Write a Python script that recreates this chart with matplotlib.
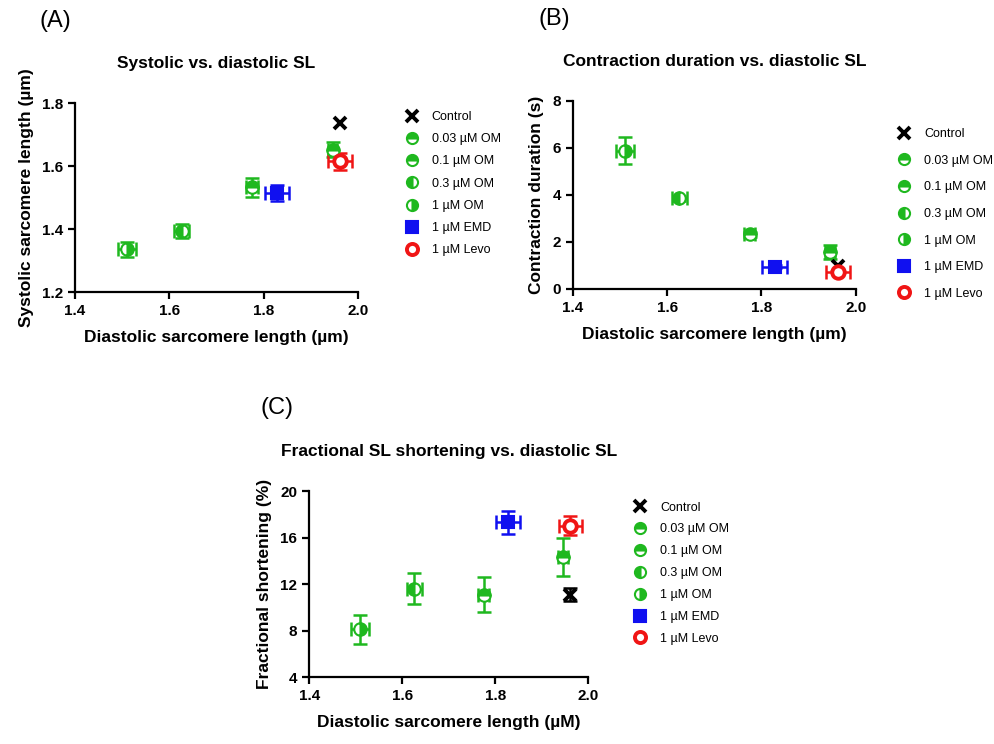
import matplotlib
matplotlib.use("Agg")
import matplotlib.pyplot as plt
from matplotlib.lines import Line2D

plt.rcParams['font.family'] = ['Liberation Sans', 'DejaVu Sans']

groups = ["Control", "0.03 µM OM", "0.1 µM OM", "0.3 µM OM", "1 µM OM", "1 µM EMD", "1 µM Levo"]

# diastolic SL (x) with SEM, same for all panels
dia = [1.962, 1.946, 1.775, 1.626, 1.510, 1.828, 1.962]
dia_err = [0.0, 0.010, 0.012, 0.016, 0.019, 0.026, 0.025]

# panel A: systolic SL
sys_sl = [1.738, 1.652, 1.533, 1.394, 1.336, 1.514, 1.615]
sys_err = [0.0, 0.024, 0.030, 0.022, 0.024, 0.026, 0.026]

# panel B: contraction duration (s)
dur = [0.98, 1.56, 2.33, 3.86, 5.89, 0.95, 0.74]
dur_err = [0.0, 0.30, 0.10, 0.10, 0.58, 0.05, 0.05]

# panel C: fractional shortening (%)
fs = [11.1, 14.3, 11.1, 11.6, 8.1, 17.3, 17.0]
fs_err = [0.55, 1.62, 1.5, 1.35, 1.25, 0.98, 0.82]

green = '#1fb81f'
styles = {
    "Control":    dict(marker='x', color='black', mfc='black', fs='full', mew=2.8, ms=9),
    "0.03 µM OM": dict(marker='o', color=green, mfc=green, fs='top', mew=1.5, ms=9),
    "0.1 µM OM":  dict(marker='o', color=green, mfc=green, fs='top', mew=1.5, ms=9),
    "0.3 µM OM":  dict(marker='o', color=green, mfc=green, fs='left', mew=1.5, ms=9),
    "1 µM OM":    dict(marker='o', color=green, mfc=green, fs='right', mew=1.5, ms=9),
    "1 µM EMD":   dict(marker='s', color='#1010f0', mfc='#1010f0', fs='full', mew=1.5, ms=9),
    "1 µM Levo":  dict(marker='o', color='#f01515', mfc='white', fs='full', mew=2.8, ms=9),
}


def panel(rect, yv, yerr, ylim, yticks, ylabel, title, xlabel, leg_pos, leg_sp):
    ax = fig.add_axes(rect)
    for i, g in enumerate(groups):
        s = styles[g]
        xe = dia_err[i] if dia_err[i] > 0 else None
        ye = yerr[i] if yerr[i] > 0 else None
        if xe is not None or ye is not None:
            ax.errorbar(dia[i], yv[i], xerr=xe, yerr=ye, fmt='none',
                        ecolor=s['color'], elinewidth=1.8, capsize=5, capthick=1.8, zorder=2)
        ax.plot(dia[i], yv[i], marker=s['marker'], color=s['color'], ls='none',
                markersize=s['ms'], markerfacecolor=s['mfc'], markerfacecoloralt='white',
                markeredgecolor=s['color'], fillstyle=s['fs'], markeredgewidth=s['mew'],
                zorder=3)
    ax.set_xlim(1.4, 2.0)
    ax.set_xticks([1.4, 1.6, 1.8, 2.0])
    ax.set_ylim(*ylim)
    ax.set_yticks(yticks)
    for sp in ['top', 'right']:
        ax.spines[sp].set_visible(False)
    for sp in ['left', 'bottom']:
        ax.spines[sp].set_linewidth(1.6)
    ax.tick_params(width=1.6, length=5, labelsize=11)
    for lab in ax.get_xticklabels() + ax.get_yticklabels():
        lab.set_fontweight('bold')
    ax.set_xlabel(xlabel, fontsize=12.5, fontweight='bold', labelpad=9)
    ax.set_ylabel(ylabel, fontsize=12.5, fontweight='bold', labelpad=6)
    ax.set_title(title, fontsize=12.5, fontweight='bold', pad=25)
    handles = []
    for g in groups:
        s = styles[g]
        handles.append(Line2D([], [], marker=s['marker'], color=s['color'], ls='none',
                              markersize=8, markerfacecolor=s['mfc'],
                              markerfacecoloralt='white', markeredgecolor=s['color'],
                              fillstyle=s['fs'], markeredgewidth=s['mew']))
    fig.legend(handles, groups, loc='upper left', bbox_to_anchor=leg_pos, frameon=False,
               fontsize=9, handletextpad=1.2, labelspacing=leg_sp, handlelength=0.8)
    return ax


fig = plt.figure(figsize=(9.94, 7.44), dpi=100)

panel([0.0755, 0.6075, 0.2847, 0.254], sys_sl, sys_err, (1.2, 1.8), [1.2, 1.4, 1.6, 1.8],
      "Systolic sarcomere length (µm)", "Systolic vs. diastolic SL",
      "Diastolic sarcomere length (µm)", (0.398, 0.866), 0.82)
panel([0.5765, 0.6116, 0.2843, 0.2527], dur, dur_err, (0, 8), [0, 2, 4, 6, 8],
      "Contraction duration (s)", "Contraction duration vs. diastolic SL",
      "Diastolic sarcomere length (µm)", (0.893, 0.843), 1.17)
panel([0.311, 0.09, 0.2807, 0.25], fs, fs_err, (4, 20), [4, 8, 12, 16, 20],
      "Fractional shortening (%)", "Fractional SL shortening vs. diastolic SL",
      "Diastolic sarcomere length (µM)", (0.628, 0.341), 0.79)

fig.text(0.040, 0.972, "(A)", fontsize=17, va='center')
fig.text(0.542, 0.975, "(B)", fontsize=17, va='center')
fig.text(0.262, 0.451, "(C)", fontsize=17, va='center')

fig.savefig("out.png", dpi=100)
